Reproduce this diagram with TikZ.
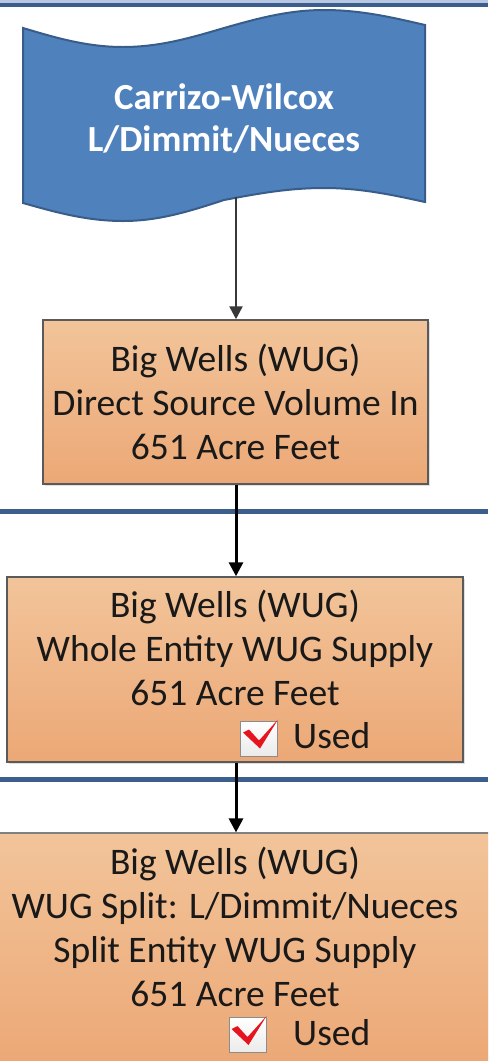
\documentclass[tikz,border=0pt]{standalone}
\usepackage{fontspec}
\setmainfont{Carlito}
\usetikzlibrary{arrows.meta,shadows}
\definecolor{bandblue}{RGB}{59,94,140}
\definecolor{bandlight}{RGB}{184,200,226}
\definecolor{srcfill}{RGB}{79,129,189}
\definecolor{srcline}{RGB}{56,93,138}
\definecolor{boxtop}{RGB}{242,196,154}
\definecolor{boxbot}{RGB}{236,168,118}
\definecolor{boxline}{RGB}{90,90,90}
\definecolor{txt}{RGB}{25,25,25}
\definecolor{chkred}{RGB}{230,20,30}
\tikzset{
  flowbox/.style={rectangle, draw=boxline, line width=1.5pt, top color=boxtop, bottom color=boxbot,
    align=center, text=txt, inner sep=0pt,
    font=\fontsize{37.5}{44}\selectfont,
    drop shadow={opacity=0.25, shadow xshift=2pt, shadow yshift=-2pt}},
  sepline/.style={draw=bandblue, line width=5pt},
  link/.style={line width=3pt, draw=black, -{Triangle[width=14pt,length=14pt]}},
  linkgray/.style={line width=2.5pt, draw=black!78, -{Triangle[width=13pt,length=13pt]}},
  chkbox/.style={rectangle, draw=black!45, line width=1pt, minimum width=37pt, minimum height=35pt,
    inner sep=0pt, top color=white, bottom color=black!8},
  usedtxt/.style={anchor=west, text=txt, inner sep=0pt, font=\fontsize{37.5}{44}\selectfont},
}
\begin{document}
\begin{tikzpicture}[x=1pt,y=-1pt]
\useasboundingbox (0,0) rectangle (488,1061);
\clip (0,0) rectangle (488,1061);
% top band
\fill[bandlight] (0,0) rectangle (488,3);
\fill[bandblue] (0,2.5) rectangle (488,7);
% separator lines
\draw[sepline] (0,511.5) -- (488,511.5);
\draw[sepline] (0,779.5) -- (488,779.5);
% source banner (tape shape)
\draw[fill=srcfill, draw=srcline, line width=2pt]
  (23,28) sin (123,47) cos (224,28) sin (324,10) cos (425,25)
  -- (425,202)
  sin (324,188) cos (224,200) sin (123,221) cos (23,203) -- cycle;
\node[text=white, align=center, inner sep=0pt, font=\bfseries\fontsize{36.8}{42}\selectfont]
  (src) at (224,118) {Carrizo-Wilcox\\L/Dimmit/Nueces};
\coordinate (srcb) at (236,197);
% boxes
\node[flowbox, minimum width=385pt, minimum height=164pt] (b1) at (235.5,402)
  {Big Wells (WUG)\\Direct Source Volume In\\651 Acre Feet};
\node[flowbox, minimum width=456pt, minimum height=185pt] (b2) at (235,669.5)
  {Big Wells (WUG)\\Whole Entity WUG Supply\\651 Acre Feet\\\mbox{}};
\node[flowbox, draw=black!50, line width=1.2pt, minimum width=560pt, minimum height=232pt] (b3) at (235,949)
  {Big Wells (WUG)\\WUG Split: L/Dimmit/Nueces\\Split Entity WUG Supply\\651 Acre Feet\\\mbox{}};
% connectors
\draw[linkgray] (srcb) -- (b1.north -| srcb);
\draw[link] (b1.south -| srcb) -- (b2.north -| srcb);
\draw[link] (b2.south -| srcb) -- (b3.north -| srcb);
% checkboxes
\node[chkbox] (c1) at (259,738.5) {};
\fill[chkred] ([shift={(-16,-6)}]c1.center) -- ([shift={(-10,-9)}]c1.center) -- ([shift={(0,2)}]c1.center)
  -- ([shift={(19,-19)}]c1.center) -- ([shift={(1,10)}]c1.center) -- cycle;
\node[usedtxt] (u1) at (293,736) {Used};
\node[chkbox] (c2) at (247.5,1035) {};
\fill[chkred] ([shift={(-16,-6)}]c2.center) -- ([shift={(-10,-9)}]c2.center) -- ([shift={(0,2)}]c2.center)
  -- ([shift={(19,-19)}]c2.center) -- ([shift={(1,10)}]c2.center) -- cycle;
\node[usedtxt] (u2) at (293,1033) {Used};
\end{tikzpicture}
\end{document}
